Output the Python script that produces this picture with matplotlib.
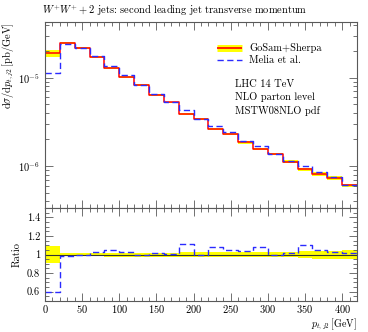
import matplotlib
matplotlib.use("Agg")
import matplotlib.pyplot as plt
import numpy as np
from matplotlib.ticker import LogLocator, MultipleLocator, NullFormatter, FixedLocator

plt.rcParams["font.family"] = ["cmr10", "DejaVu Serif"]
plt.rcParams["mathtext.fontset"] = "cm"
plt.rcParams["axes.formatter.use_mathtext"] = True

# binning of the second jet pt (GeV)
bin_edges = np.arange(0, 421, 20)

# GoSam+Sherpa NLO, pb/GeV
gosam = [1.89e-5, 2.49e-5, 2.16e-5, 1.71e-5, 1.30e-5, 1.03e-5, 8.27e-6,
         6.37e-6, 5.27e-6, 3.88e-6, 3.38e-6, 2.64e-6, 2.32e-6, 1.85e-6,
         1.55e-6, 1.37e-6, 1.12e-6, 9.18e-7, 8.18e-7, 7.37e-7, 6.01e-7]

# Melia et al. / GoSam+Sherpa
melia_ratio = [0.60, 0.98, 1.00, 1.03, 1.05, 1.03, 0.99, 1.02, 1.01, 1.11,
               1.00, 1.08, 1.05, 1.04, 1.08, 1.00, 1.02, 1.10, 1.05, 1.03, 1.02]

# scale uncertainty band, relative to central value
band_up = [1.09, 1.02, 1.02, 1.02, 1.02, 1.02, 1.02, 1.02, 1.02, 1.03, 1.03,
           1.03, 1.03, 1.03, 1.03, 1.03, 1.03, 1.04, 1.04, 1.04, 1.05]
band_lo = [0.91, 0.98, 0.98, 0.98, 0.97, 0.97, 0.97, 0.97, 0.97, 0.97, 0.97,
           0.97, 0.97, 0.97, 0.97, 0.97, 0.97, 0.96, 0.95, 0.95, 0.95]


def _stepped(values):
    values = np.asarray(values, dtype=float)
    return np.append(values, values[-1])


gosam_arr = np.asarray(gosam)
melia = gosam_arr * np.asarray(melia_ratio)

YELLOW = "#ffff00"
RED = "#ff0000"
BLUE = "#2b2bff"
FRAME = "0.35"

fig = plt.figure(figsize=(3.68, 3.32), dpi=100)
ax = fig.add_axes([45 / 368, 124 / 332, 312 / 368, 186 / 332])
axr = fig.add_axes([45 / 368, 31 / 332, 312 / 368, 93 / 332], sharex=ax)

# main panel
ax.fill_between(bin_edges, _stepped(gosam_arr * band_lo), _stepped(gosam_arr * band_up),
                step="post", color=YELLOW, lw=0)
ax.step(bin_edges, _stepped(gosam_arr), where="post", color=RED, lw=1.1)
ax.step(bin_edges, _stepped(melia), where="post", color=BLUE, lw=1.0,
        dashes=(4.5, 2.5))
ax.set_yscale("log")
ax.set_ylim(3.34e-7, 4.28e-5)
ax.set_xlim(0, 420)
ax.set_ylabel(r"$\mathrm{d}\sigma/\mathrm{d}p_{t,j2}\,[\mathrm{pb/GeV}]$", fontsize=7.5,
              labelpad=2, loc="top")
ax.yaxis.set_major_locator(LogLocator(base=10))
ax.yaxis.set_minor_locator(LogLocator(base=10, subs=np.arange(2, 10)))
ax.yaxis.set_minor_formatter(NullFormatter())
ax.tick_params(labelbottom=False)

# legend drawn by hand as handles in axes fraction
ax.plot([0.55, 0.631], [0.862, 0.862], transform=ax.transAxes, color=YELLOW, lw=5,
        solid_capstyle="butt")
ax.plot([0.55, 0.631], [0.862, 0.862], transform=ax.transAxes, color=RED, lw=1.2,
        solid_capstyle="butt")
ax.plot([0.55, 0.631], [0.796, 0.796], transform=ax.transAxes, color=BLUE, lw=1.0,
        dashes=(4.5, 2.5))
ax.text(0.654, 0.862, "GoSam+Sherpa", transform=ax.transAxes, fontsize=7.5, va="center")
ax.text(0.654, 0.796, "Melia et al.", transform=ax.transAxes, fontsize=7.5, va="center")
for y, label in [(0.664, "LHC 14 TeV"), (0.595, "NLO parton level"), (0.524, "MSTW08NLO pdf")]:
    ax.text(0.609, y, label, transform=ax.transAxes, fontsize=7.5, va="center")

ax.set_title(r"$W^{+}W^{+}+2$ jets: second leading jet transverse momentum",
             fontsize=7.5, loc="left", pad=6, x=-0.01)

# ratio panel
axr.fill_between(bin_edges, _stepped(band_lo), _stepped(band_up), step="post",
                 color=YELLOW, lw=0)
axr.axhline(1.0, color="0.2", lw=0.8)
axr.step(bin_edges, _stepped(melia_ratio), where="post", color=BLUE, lw=1.0,
         dashes=(4.5, 2.5))
axr.set_ylim(0.5, 1.5)
axr.set_xlim(0, 420)
axr.yaxis.set_major_locator(FixedLocator([0.6, 0.8, 1.0, 1.2, 1.4]))
axr.set_yticklabels(["0.6", "0.8", "1", "1.2", "1.4"])
axr.yaxis.set_minor_locator(MultipleLocator(0.05))
axr.set_ylabel("Ratio", fontsize=7.5, labelpad=4)
axr.set_xlabel(r"$p_{t,j2}\,[\mathrm{GeV}]$", fontsize=7.2, ha="right", va="top")
axr.xaxis.set_label_coords(1.0, -0.165)
axr.xaxis.set_major_locator(MultipleLocator(50))
axr.xaxis.set_minor_locator(MultipleLocator(10))

for a in (ax, axr):
    for spine in a.spines.values():
        spine.set_color(FRAME)
        spine.set_linewidth(0.8)
    a.tick_params(which="both", direction="in", top=True, right=True, colors=FRAME,
                  labelcolor="black", labelsize=7.5, width=0.6)
    a.tick_params(which="major", length=6)
    a.tick_params(which="minor", length=3)
axr.tick_params(axis="x", pad=1.5)

fig.savefig("out.png", dpi=100)
